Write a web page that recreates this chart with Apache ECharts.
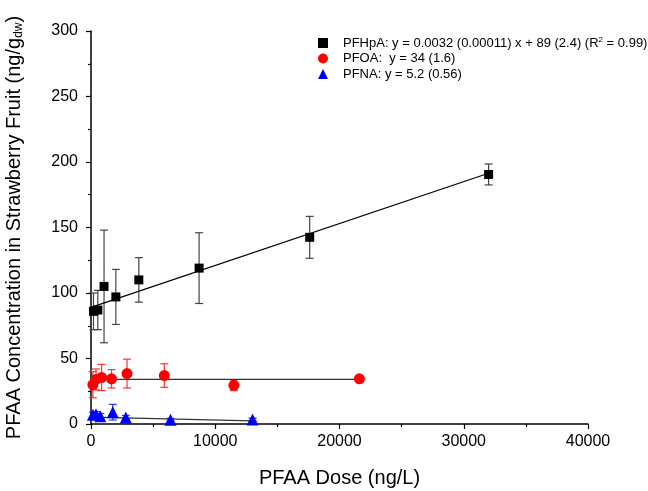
<!DOCTYPE html>
<html>
<head>
<meta charset="utf-8">
<script src="https://cdn.jsdelivr.net/npm/echarts@6/dist/echarts.min.js"></script>
<style>html,body{margin:0;padding:0;background:#fff}#c{width:648px;height:491px}</style>
</head>
<body>
<div id="c"></div>
<script>
// ---- data ----
var xTicks = [0, 10000, 20000, 30000, 40000];
var yTicks = [0, 50, 100, 150, 200, 250, 300];

var pfhpaDose = [200, 550, 1050, 2000, 3850, 8700, 17600, 32000];
var pfhpaConc = [86, 87, 105, 97, 110, 119, 142.5, 190.5];
var pfhpaErr  = [14, 15, 43, 21, 17, 27, 16, 8];

var pfoaDose = [150, 400, 850, 1650, 2900, 5900, 11500, 21600];
var pfoaConc = [30, 34, 35.5, 34.5, 38.5, 37, 29.5, 34.5];
var pfoaErr  = [10, 8, 10, 7, 11, 9, 4, 2];

var pfnaDose = [150, 400, 750, 1750, 2800, 6400, 13000];
var pfnaConc = [7, 7.5, 6, 9, 5, 3.3, 3.5];
var pfnaErr  = [2, 2, 2, 6, 1.5, 1, 1];

var pfhpaFitX = [0, 32000];
var pfhpaFitY = [89, 191.4];
var pfoaFitX = [0, 21600];
var pfoaFitY = [34, 34];
var pfnaFitX = [0, 13000];
var pfnaFitY = [5.2, 2.4];

var legendTexts = {
  'PFHpA': '{t|PFHpA: y = 0.0032 (0.00011) x + 89 (2.4) (R}{sup|2}{t| = 0.99)}',
  'PFOA':  '{t|PFOA:  y = 34 (1.6)}',
  'PFNA':  '{t|PFNA: y = 5.2 (0.56)}'
};

function zip(a, b) { return a.map(function (v, i) { return [v, b[i]]; }); }
function errData(d, c, e) { return d.map(function (v, i) { return [v, c[i] - e[i], c[i] + e[i]]; }); }

function errSeries(d, c, e, color) {
  return {
    type: 'custom', silent: true, z: 2,
    data: errData(d, c, e),
    renderItem: function (params, api) {
      var x = api.value(0);
      var lo = api.coord([x, api.value(1)]);
      var hi = api.coord([x, api.value(2)]);
      var w = 4;
      var st = { stroke: color, lineWidth: 1.2 };
      return { type: 'group', children: [
        { type: 'line', shape: { x1: lo[0], y1: lo[1], x2: hi[0], y2: hi[1] }, style: st },
        { type: 'line', shape: { x1: lo[0] - w, y1: lo[1], x2: lo[0] + w, y2: lo[1] }, style: st },
        { type: 'line', shape: { x1: hi[0] - w, y1: hi[1], x2: hi[0] + w, y2: hi[1] }, style: st }
      ]};
    }
  };
}

function fitSeries(xs, ys, color) {
  return { type: 'line', data: zip(xs, ys), symbol: 'none', silent: true, z: 3,
    lineStyle: { color: color, width: 1.2 } };
}

var font = 'Liberation Sans, Arial, sans-serif';
var chart = echarts.init(document.getElementById('c'), null, { renderer: 'canvas' });
chart.setOption({
  animation: false,
  backgroundColor: '#fff',
  textStyle: { fontFamily: font },
  grid: { left: 91, right: 60, top: 31, bottom: 67, containLabel: false, outerBoundsMode: 'none' },
  legend: {
    orient: 'vertical', left: 313, top: 31, itemGap: 2.5,
    itemWidth: 10, itemHeight: 10,
    data: [
      { name: 'PFHpA', icon: 'rect' },
      { name: 'PFOA', icon: 'circle' },
      { name: 'PFNA', icon: 'triangle' }
    ],
    formatter: function (n) { return legendTexts[n]; },
    textStyle: {
      padding: [0, 0, 0, 10],
      rich: {
        t: { fontSize: 13, fontFamily: font, color: '#000', lineHeight: 14 },
        sup: { fontSize: 8, fontFamily: font, color: '#000', verticalAlign: 'top', lineHeight: 14 }
      }
    }
  },
  xAxis: {
    type: 'value', min: xTicks[0], max: xTicks[xTicks.length - 1], interval: 10000,
    name: 'PFAA Dose (ng/L)', nameLocation: 'middle', nameGap: 44,
    nameTextStyle: { fontSize: 20, color: '#000', fontFamily: font },
    axisLine: { onZero: false, lineStyle: { color: '#000', width: 1.5 } },
    axisTick: { inside: false, length: 5, lineStyle: { color: '#000', width: 1.2 } },
    minorTick: { show: true, splitNumber: 2, length: 3, lineStyle: { color: '#000', width: 1.2 } },
    splitLine: { show: false },
    axisLabel: { fontSize: 16, color: '#000', margin: 10, fontFamily: font,
      formatter: function (v) { return String(v); } }
  },
  yAxis: {
    type: 'value', min: yTicks[0], max: yTicks[yTicks.length - 1], interval: 50,
    name: '{a|PFAA Concentration in Strawberry Fruit (ng/g}{s|dw}{a|)}',
    nameLocation: 'middle', nameGap: 66, nameRotate: 90,
    nameTextStyle: {
      rich: {
        a: { fontSize: 20, color: '#000', fontFamily: font, lineHeight: 22 },
        s: { fontSize: 12, color: '#000', fontFamily: font, verticalAlign: 'bottom', lineHeight: 18 }
      }
    },
    axisLine: { show: true, onZero: false, lineStyle: { color: '#000', width: 1.5 } },
    axisTick: { show: true, inside: false, length: 5, lineStyle: { color: '#000', width: 1.2 } },
    minorTick: { show: true, splitNumber: 2, length: 3, lineStyle: { color: '#000', width: 1.2 } },
    splitLine: { show: false },
    axisLabel: { fontSize: 16, color: '#000', margin: 13, fontFamily: font }
  },
  series: [
    fitSeries(pfhpaFitX, pfhpaFitY, '#000'),
    fitSeries(pfoaFitX, pfoaFitY, '#333'),
    fitSeries(pfnaFitX, pfnaFitY, '#333'),
    errSeries(pfhpaDose, pfhpaConc, pfhpaErr, '#444'),
    errSeries(pfoaDose, pfoaConc, pfoaErr, '#ff3333'),
    errSeries(pfnaDose, pfnaConc, pfnaErr, '#2233ff'),
    { name: 'PFHpA', type: 'scatter', symbol: 'rect', symbolSize: 9, z: 5,
      itemStyle: { color: '#000', opacity: 1 }, data: zip(pfhpaDose, pfhpaConc) },
    { name: 'PFOA', type: 'scatter', symbol: 'circle', symbolSize: 11, z: 5,
      itemStyle: { color: '#ff0000', opacity: 1 }, data: zip(pfoaDose, pfoaConc) },
    { name: 'PFNA', type: 'scatter', symbol: 'triangle', symbolSize: 12, z: 5,
      itemStyle: { color: '#0000ff', opacity: 1 }, data: zip(pfnaDose, pfnaConc) }
  ]
});
</script>
</body>
</html>
